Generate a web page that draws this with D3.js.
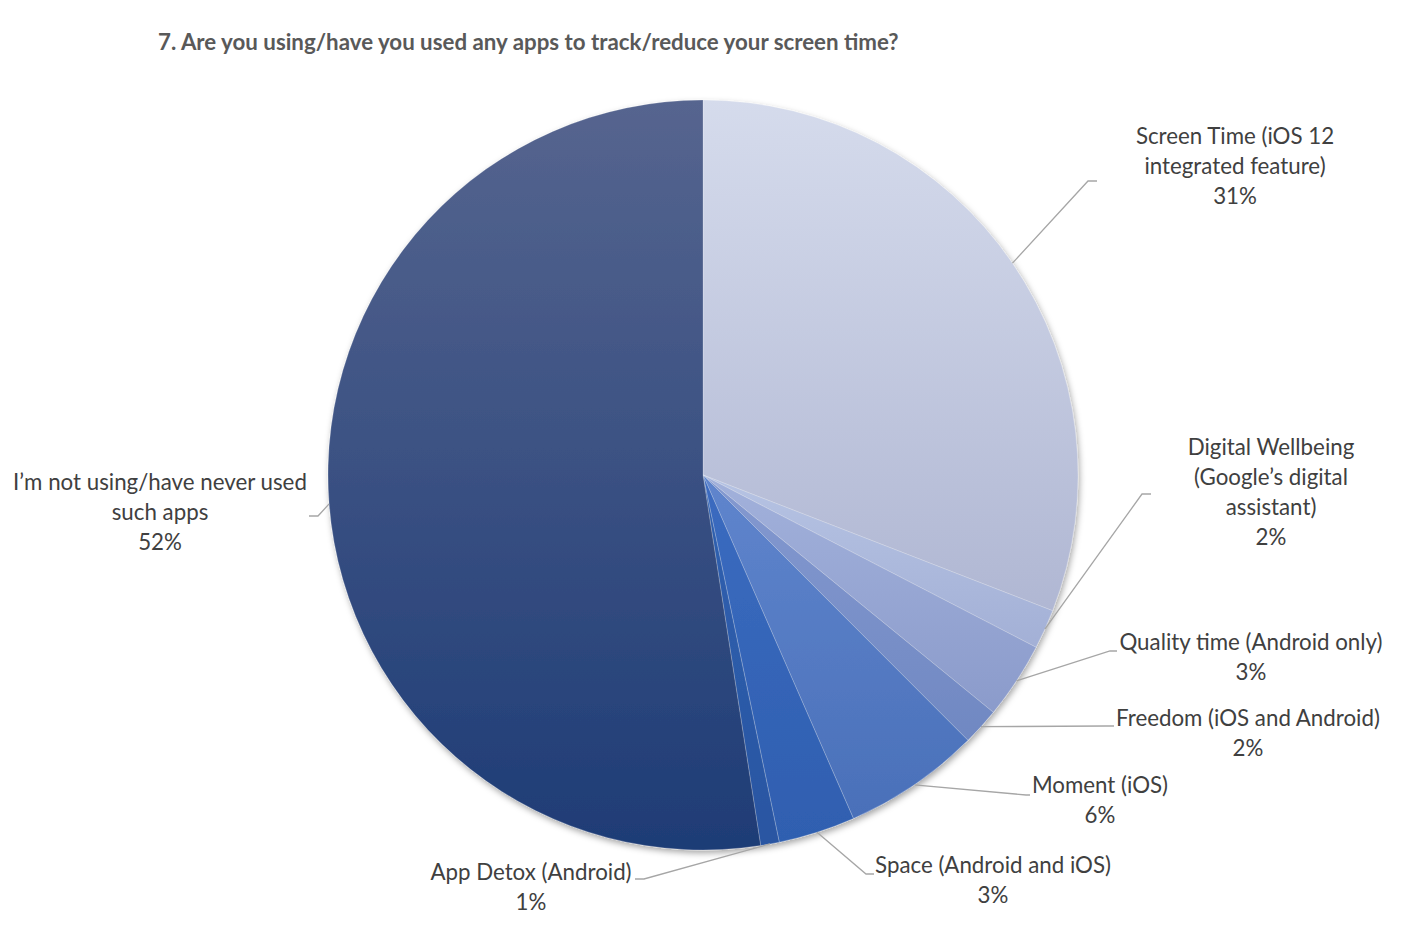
<!DOCTYPE html>
<html>
<head>
<meta charset="utf-8">
<script src="https://cdn.jsdelivr.net/npm/d3@7"></script>
<style>
  body { margin: 0; background: #fff; }
  svg { display: block; font-family: Lato, "Open Sans", sans-serif; }
</style>
</head>
<body>
<svg id="chart" width="1418" height="938"></svg>
<script>
// Data
const categories = [
  "Screen Time (iOS 12 integrated feature)",
  "Digital Wellbeing (Google’s digital assistant)",
  "Quality time (Android only)",
  "Freedom (iOS and Android)",
  "Moment (iOS)",
  "Space (Android and iOS)",
  "App Detox (Android)",
  "I’m not using/have never used such apps"
];
const values = [30.8, 1.7, 3.3, 1.6, 5.9, 3.3, 0.8, 52.3];
const percentLabels = ["31%", "2%", "3%", "2%", "6%", "3%", "1%", "52%"];
const labelLines = [
  ["Screen Time (iOS 12", "integrated feature)"],
  ["Digital Wellbeing", "(Google’s digital", "assistant)"],
  ["Quality time (Android only)"],
  ["Freedom (iOS and Android)"],
  ["Moment (iOS)"],
  ["Space (Android and iOS)"],
  ["App Detox (Android)"],
  ["I’m not using/have never used", "such apps"]
];

// gradient colours, top -> bottom
const colorsTop = ["#d5dbec", "#b6c3e3", "#a2b1db", "#8499d0", "#5f85cd", "#3b6bc0", "#2f60b0", "#56658f"];
const colorsBottom = ["#b0b7d3", "#a3b0d6", "#8b9bcb", "#7088c2", "#4a70b9", "#2f5fb0", "#2a56a2", "#1e3c76"];

// Layout
const cx = 703, cy = 475, r = 375;
// text center x, first line center y, elbow point, end of leader
const labelLayout = [
  { tx: 1235, ty: 135, ex: 1088, ey: 181, hx: 1097 },
  { tx: 1271, ty: 446, ex: 1142, ey: 494, hx: 1151 },
  { tx: 1251, ty: 641, ex: 1110, ey: 651, hx: 1117 },
  { tx: 1248, ty: 717, ex: 1106, ey: 726, hx: 1114 },
  { tx: 1100, ty: 784, ex: 1026, ey: 795, hx: 1030 },
  { tx: 993, ty: 864, ex: 866, ey: 874, hx: 874 },
  { tx: 531, ty: 871, ex: 644, ey: 879, hx: 635 },
  { tx: 160, ty: 481, ex: 318, ey: 516, hx: 309 }
];
const lineH = 30;

const svg = d3.select("#chart");
const defs = svg.append("defs");

const shadow = defs.append("filter").attr("id", "shadow")
  .attr("x", "-10%").attr("y", "-10%").attr("width", "120%").attr("height", "120%");
shadow.append("feDropShadow")
  .attr("dx", 1.5).attr("dy", 3).attr("stdDeviation", 3)
  .attr("flood-color", "#000").attr("flood-opacity", 0.35);

values.forEach((v, i) => {
  const g = defs.append("linearGradient").attr("id", "grad" + i)
    .attr("x1", 0).attr("y1", 0).attr("x2", 0).attr("y2", 1);
  g.append("stop").attr("offset", "0%").attr("stop-color", colorsTop[i]);
  g.append("stop").attr("offset", "100%").attr("stop-color", colorsBottom[i]);
});

// Title
svg.append("text")
  .attr("x", 158)
  .attr("y", 50)
  .attr("font-size", 22.3)
  .attr("font-weight", "bold")
  .attr("fill", "#595959")
  .text("7. Are you using/have you used any apps to track/reduce your screen time?");

// Pie
const pie = d3.pie().sort(null).value(d => d);
const arcs = pie(values);
const arc = d3.arc().innerRadius(0).outerRadius(r);
const edgeArc = d3.arc().innerRadius(r).outerRadius(r);

const pieG = svg.append("g")
  .attr("transform", `translate(${cx},${cy})`)
  .attr("filter", "url(#shadow)");

pieG.selectAll("path")
  .data(arcs)
  .enter()
  .append("path")
  .attr("d", arc)
  .attr("fill", (d, i) => `url(#grad${i})`)
  .attr("stroke", "#ffffff")
  .attr("stroke-opacity", 0.35)
  .attr("stroke-width", 0.6);

// Leader lines
svg.append("g")
  .selectAll("polyline")
  .data(arcs)
  .enter()
  .append("polyline")
  .attr("fill", "none")
  .attr("stroke", "#a6a6a6")
  .attr("stroke-width", 1.3)
  .attr("points", (d, i) => {
    const [sx, sy] = edgeArc.centroid(d);
    const L = labelLayout[i];
    return [[cx + sx, cy + sy], [L.ex, L.ey], [L.hx, L.ey]].map(p => p.join(",")).join(" ");
  });

// Labels
const labels = svg.append("g")
  .attr("font-size", 22.3)
  .attr("fill", "#404040")
  .attr("text-anchor", "middle");

categories.forEach((c, i) => {
  const L = labelLayout[i];
  const lines = labelLines[i].concat([percentLabels[i]]);
  const t = labels.append("text").attr("data-category", c);
  lines.forEach((s, j) => {
    t.append("tspan")
      .attr("x", L.tx)
      .attr("y", L.ty + j * lineH)
      .attr("dominant-baseline", "central")
      .text(s);
  });
});
</script>
</body>
</html>
